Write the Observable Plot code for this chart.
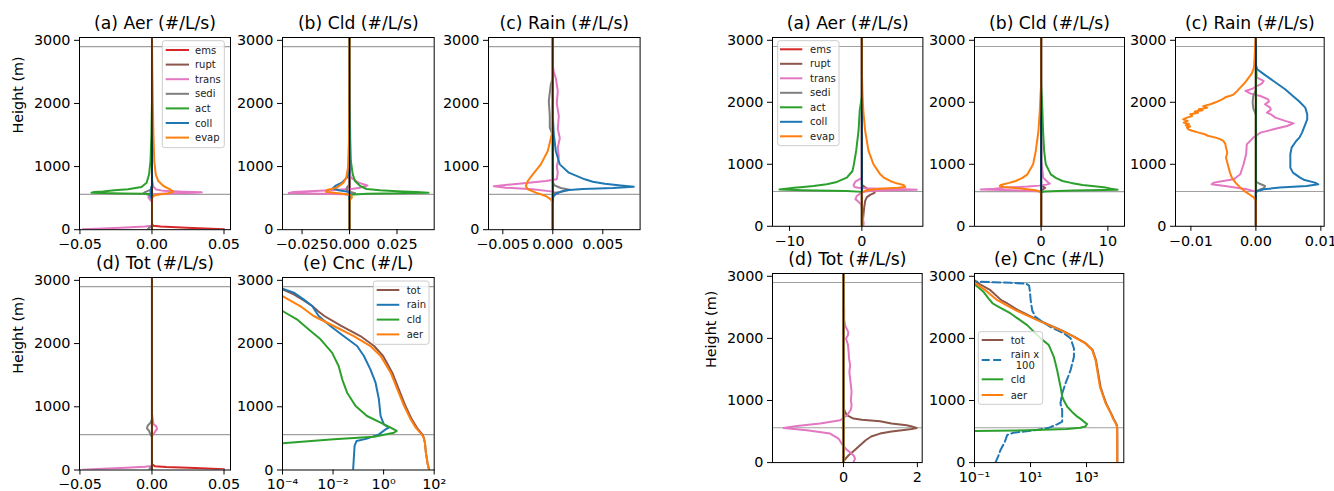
<!DOCTYPE html>
<html><head><meta charset="utf-8">
<script src="https://cdn.jsdelivr.net/npm/d3@7"></script>
<script src="https://cdn.jsdelivr.net/npm/@observablehq/plot@0.6"></script>
<style>body{margin:0;background:#fff}#chart{position:relative;width:1334px;height:491px;background:#fff;overflow:hidden}</style>
</head><body><div id="chart"></div>
<script>
// ---------- labels / colours ----------
const rateLabels = ["ems","rupt","trans","sedi","act","coll","evap"];
const rateColors = ["#d62728","#8c564b","#e377c2","#7f7f7f","#2ca02c","#1f77b4","#ff7f0e"];
const cncLabelsL = ["tot","rain","cld","aer"];
const cncLabelsR = ["tot","rain x\n 100","cld","aer"];
const cncColors = ["#8c564b","#1f77b4","#2ca02c","#ff7f0e"];
const hLines = [560, 2900];
const yTicks = [0, 1000, 2000, 3000];
const zero = [[0,0],[3040,0]];

// ---------- LEFT FIGURE : [height (m), value] ----------
const LA_ems = [[5,0.05],[30,0.024],[50,0.006],[62,0.001],[90,0],[3040,0]];
const LA_rupt = zero;
const LA_trans = [[5,-0.048],[20,-0.034],[35,-0.018],[50,-0.005],[62,0],[440,0],[480,-0.0015],[510,-0.0025],[540,-0.002],[560,0],[575,0.01],[585,0.03],[592,0.0345],[600,0.022],[615,0.008],[635,0.003],[680,0.001],[800,0],[3040,0]];
const LA_sedi = [[5,-0.003],[30,-0.002],[60,0],[520,0],[550,-0.002],[575,-0.006],[595,-0.005],[630,-0.001],[700,0],[3040,0]];
const LA_act = [[0,0],[560,0],[568,-0.004],[575,-0.02],[585,-0.042],[596,-0.040],[606,-0.034],[624,-0.026],[640,-0.0166],[677,-0.0073],[745,-0.0037],[877,-0.002],[1100,-0.001],[1500,-0.0004],[2000,0],[3040,0]];
const LA_coll = [[0,0],[480,0],[520,-0.001],[620,-0.001],[700,0],[3040,0]];
const LA_evap = [[0,0],[470,0],[510,0.0003],[540,0.0015],[560,0.006],[575,0.011],[600,0.0149],[615,0.014],[640,0.0125],[692,0.008],[771,0.0044],[877,0.0026],[1088,0.0016],[1500,0.001],[2000,0.0006],[2600,0.0002],[3040,0]];

const LB_ems = zero, LB_rupt = zero;
const LB_trans = [[0,0],[545,0],[560,-0.003],[581,-0.032],[597,-0.0295],[624,-0.0102],[650,0.002],[666,0.0056],[700,0.0095],[745,0.0047],[824,0.0008],[900,0],[3040,0]];
const LB_sedi = [[0,0],[540,0],[560,0.001],[576,0.003],[595,0.001],[613,-0.0015],[666,-0.0014],[720,0],[3040,0]];
const LB_act = [[0,0],[545,0],[556,0.002],[570,0.0093],[586,0.0416],[597,0.035],[610,0.025],[624,0.016],[645,0.009],[692,0.0056],[771,0.0029],[877,0.0017],[1088,0.0007],[1406,0.0004],[2000,0.0001],[3040,0]];
const LB_coll = [[0,0],[590,0],[603,-0.0014],[624,-0.0057],[656,-0.0088],[692,-0.0075],[745,-0.004],[824,-0.0014],[900,0],[3040,0]];
const LB_evap = [[0,0],[460,0],[490,0.0008],[515,0.0013],[540,0.0008],[560,-0.001],[578,-0.006],[600,-0.0125],[629,-0.012],[666,-0.0067],[745,-0.0032],[824,-0.0017],[982,-0.0008],[1400,-0.0003],[2000,-0.0001],[3040,0]];

const LC_ems = zero, LC_rupt = zero, LC_act = zero;
const LC_trans = [[0,0],[540,0],[571,0.0005],[603,0],[640,-0.002],[666,-0.0047],[690,-0.0059],[712,-0.0045],[729,-0.0034],[772,-0.0007],[800,0.0004],[900,0.0005],[1000,0.0004],[1150,0.0006],[1300,0.0005],[1450,0.0007],[1600,0.0005],[1800,0.0006],[2000,0.0004],[2200,0.0005],[2400,0.0003],[2500,0.0001],[2600,0],[3040,0]];
const LC_sedi = [[0,0],[560,0],[590,0.0004],[615,0.0013],[632,0.0017],[660,0.0008],[700,0.0002],[745,0],[1500,0],[1616,-0.0003],[1800,-0.0003],[2040,-0.0004],[2300,-0.0002],[2409,0],[3040,0]];
const LC_coll = [[0,0],[500,0],[534,0.0001],[570,0.0003],[600,0.0008],[624,0.0013],[645,0.003],[660,0.006],[680,0.0081],[700,0.0068],[729,0.0052],[760,0.004],[798,0.0032],[903,0.0016],[1035,0.0007],[1247,0.0003],[1511,0.0001],[1800,0],[3040,0]];
const LC_evap = [[0,0],[420,0],[481,-0.0002],[534,-0.0007],[587,-0.0017],[640,-0.0025],[692,-0.0027],[771,-0.0025],[877,-0.002],[1035,-0.0012],[1247,-0.0005],[1511,-0.0001],[1800,0],[3040,0]];

const LD_ems = [[10,0.05],[30,0.03],[48,0.01],[60,0.002],[90,0],[3040,0]];
const LD_rupt = zero, LD_act = zero, LD_coll = zero, LD_evap = zero;
const LD_trans = [[5,-0.048],[20,-0.034],[35,-0.018],[50,-0.005],[62,0],[540,0],[564,0.001],[617,0.0025],[650,0.0035],[690,0.003],[722,0.0012],[801,0.0005],[900,0],[3040,0]];
const LD_sedi = [[5,-0.002],[40,-0.001],[60,0],[520,0],[560,-0.001],[617,-0.002],[660,-0.0035],[700,-0.003],[750,-0.001],[800,0],[3040,0]];

const LE_tot = [[5,63],[100,55],[274,47],[432,43],[511,39],[564,34],[620,26],[670,20.5],[801,13],[1012,7.3],[1276,4.0],[1434,2.8],[1539,2.2],[1803,0.95],[1961,0.42],[2119,0.12],[2278,0.021],[2436,0.0045],[2515,0.0025],[2594,0.0015],[2699,0.0006],[2778,0.00028],[2857,0.0001],[2900,0.00005]];
const LE_rain = [[0,0.062],[380,0.071],[459,0.085],[496,0.22],[564,0.65],[643,1.2],[670,1.6],[722,1.02],[854,0.76],[1118,0.65],[1381,0.48],[1592,0.30],[1803,0.166],[1961,0.089],[2119,0.026],[2278,0.0078],[2436,0.0027],[2515,0.002],[2594,0.0015],[2699,0.00068],[2805,0.00028],[2868,0.0001],[2900,0.00005]];
const LE_cld = [[380,0.00005],[422,0.0001],[485,0.0107],[527,0.42],[590,2.57],[617,3.3],[670,1.9],[749,0.76],[854,0.22],[1012,0.078],[1223,0.036],[1434,0.023],[1645,0.0166],[1856,0.0091],[2067,0.0032],[2225,0.00107],[2383,0.00037],[2515,0.0001],[2550,0.00005]];
const LE_aer = [[5,63],[100,55],[274,47],[432,43],[511,38],[564,32],[620,24],[670,18.6],[801,11.7],[1012,6.5],[1276,3.5],[1539,1.9],[1803,0.76],[1961,0.30],[2119,0.066],[2278,0.0107],[2436,0.0017],[2594,0.0005],[2752,0.0001],[2800,0.00005]];

// ---------- RIGHT FIGURE ----------
const RA_ems = zero, RA_sedi = zero, RA_coll = zero;
const RA_rupt = [[0,0.1],[86,0.14],[194,0.23],[301,0.32],[409,0.46],[470,0.7],[510,1.2],[540,1.75],[560,1.8],[580,1.2],[600,0.8],[634,0.4],[670,0],[3040,0]];
const RA_trans = [[0,0.2],[50,0.25],[86,0.2],[200,0.05],[301,0],[355,-0.1],[409,-0.6],[435,-0.9],[489,-0.7],[530,-0.2],[554,0],[570,1.15],[581,4],[588,7.6],[597,6],[607,2.5],[613,0.5],[623,-0.5],[634,-1.0],[666,-1.15],[700,-1.0],[720,-0.9],[760,-0.3],[785,0],[3040,0]];
const RA_act = [[0,0],[555,0],[570,-2.1],[581,-8.1],[592,-11.4],[605,-10.5],[620,-9.4],[634,-8.1],[650,-6.7],[677,-4.85],[715,-3.46],[785,-2.08],[892,-1.3],[1000,-1.1],[1215,-0.79],[1537,-0.46],[1860,-0.3],[2100,0],[3040,0]];
const RA_evap = [[0,0],[540,0],[554,0.14],[581,0.7],[607,2.5],[622,5.0],[634,6.0],[650,5.9],[666,5.76],[700,4.6],[731,3.92],[780,3.1],[838,2.54],[1000,1.61],[1215,0.92],[1537,0.46],[1860,0.2],[2100,0.1],[2500,0],[3040,0]];

const RB_ems = zero, RB_sedi = zero, RB_coll = zero;
const RB_rupt = [[0,0],[560,0],[600,0.3],[620,0.6],[640,0.3],[660,0],[3040,0]];
const RB_trans = [[0,0],[540,0],[565,-0.3],[581,-4.3],[594,-9.05],[605,-7],[624,-5.3],[640,-2],[656,-0.3],[672,0.8],[688,1.3],[720,0.95],[785,0.3],[1054,0.05],[1500,0.05],[2000,0.1],[2200,0],[3040,0]];
const RB_act = [[0,0],[545,0],[560,0.45],[576,4.7],[591,11.45],[607,10.5],[624,9.7],[645,8],[666,6.2],[700,4.5],[731,3.2],[780,2.2],[838,1.45],[1000,0.7],[1215,0.45],[1537,0.29],[1860,0.195],[2100,0.1],[2300,0],[3040,0]];
const RB_evap = [[0,0],[500,0],[554,-0.05],[581,-0.8],[607,-2.8],[634,-5.55],[650,-6.2],[666,-6.05],[700,-4.8],[731,-3.8],[780,-2.8],[838,-2.05],[1000,-1.2],[1215,-0.8],[1537,-0.4],[1860,-0.2],[2100,-0.1],[2300,0],[3040,0]];

const RC_ems = zero, RC_rupt = zero, RC_act = zero;
const RC_trans = [[0,0],[540,0],[559,0],[597,-0.0014],[645,-0.0045],[677,-0.0068],[704,-0.0065],[730,-0.005],[758,-0.0034],[839,-0.0024],[1000,-0.0019],[1161,-0.0015],[1322,-0.0014],[1430,-0.0004],[1511,0.0007],[1564,0.0027],[1618,0.0048],[1660,0.0058],[1700,0.0045],[1753,0.003],[1800,0.0024],[1833,0.0017],[1880,0.0023],[1914,0.0022],[1968,0.0014],[2010,0.002],[2048,0.0019],[2102,0.0007],[2140,-0.0008],[2183,-0.0016],[2220,-0.0005],[2263,0.0002],[2300,0.0009],[2344,0.0012],[2398,0.00015],[2500,0.0001],[2700,-0.0001],[2900,0],[3040,0]];
const RC_sedi = [[0,0],[540,0],[580,0.0003],[620,0.0013],[650,0.0014],[690,0.0005],[720,0],[1800,0],[1900,-0.0004],[2000,-0.0005],[2100,-0.0004],[2200,0],[3040,0]];
const RC_coll = [[0,0],[520,0],[559,0],[597,0.0012],[624,0.0037],[650,0.0078],[677,0.0096],[704,0.0091],[745,0.0075],[785,0.0068],[866,0.0057],[946,0.0053],[1054,0.0053],[1161,0.0053],[1269,0.0055],[1376,0.0062],[1430,0.0067],[1511,0.0071],[1645,0.0076],[1726,0.0079],[1806,0.0079],[1914,0.0076],[2021,0.0066],[2110,0.0056],[2210,0.0045],[2344,0.0027],[2478,0.0009],[2532,0.0002],[2600,0],[3040,0]];
const RC_evap = [[0,0],[409,0],[462,-0.0003],[500,-0.0008],[543,-0.0014],[580,-0.0019],[624,-0.0024],[700,-0.0031],[785,-0.0037],[870,-0.004],[946,-0.0042],[1030,-0.0044],[1107,-0.0046],[1190,-0.0044],[1269,-0.0046],[1330,-0.0047],[1376,-0.005],[1410,-0.0056],[1430,-0.0062],[1460,-0.0074],[1490,-0.008],[1511,-0.0088],[1540,-0.0098],[1565,-0.0104],[1591,-0.0106],[1610,-0.0101],[1630,-0.0108],[1650,-0.0103],[1672,-0.0111],[1700,-0.0105],[1725,-0.0112],[1753,-0.0106],[1780,-0.0098],[1806,-0.0101],[1830,-0.0089],[1850,-0.0094],[1870,-0.0082],[1887,-0.0088],[1910,-0.0075],[1935,-0.0081],[1968,-0.007],[2000,-0.0062],[2048,-0.0052],[2080,-0.0047],[2110,-0.0038],[2129,-0.0034],[2180,-0.0029],[2236,-0.0024],[2290,-0.0019],[2340,-0.0015],[2398,-0.0011],[2470,-0.0006],[2559,-0.0003],[2700,-0.0002],[2935,-0.0001],[3040,0]];

const RD_ems = zero, RD_act = zero, RD_coll = zero, RD_evap = zero;
const RD_rupt = [[0,0],[38,0.02],[118,0.14],[199,0.3],[279,0.45],[360,0.6],[420,0.75],[467,0.99],[500,1.3],[516,1.53],[540,1.85],[558,1.98],[580,1.85],[601,1.71],[630,1.3],[666,0.99],[690,0.5],[709,0.27],[760,0.1],[816,0.04],[900,0],[3040,0]];
const RD_trans = [[8,0.27],[64,0.315],[110,0.28],[145,0.22],[200,0.1],[279,-0.02],[387,-0.135],[467,-0.36],[521,-0.99],[558,-1.62],[591,-1.26],[628,-0.63],[682,-0.09],[763,0.1],[850,0.2],[924,0.22],[1000,0.2],[1138,0.22],[1250,0.2],[1353,0.18],[1460,0.16],[1568,0.18],[1680,0.15],[1783,0.14],[1900,0.12],[1998,0.07],[2050,0.12],[2105,0.13],[2200,0.05],[2300,0.02],[2481,0.02],[2600,0],[3040,0]];
const RD_sedi = [[0,0],[540,0],[560,-0.03],[580,0],[3040,0]];

const RE_tot = [[5,12600],[300,12600],[560,12500],[600,12100],[633,11300],[700,9400],[800,7400],[954,5000],[1100,3850],[1222,3150],[1490,2500],[1651,2170],[1812,1650],[1919,950],[2026,370],[2133,125],[2294,19],[2455,3.6],[2562,1.5],[2616,0.9],[2777,0.37],[2884,0.14],[2937,0.1],[2950,0.09]];
const RE_rain = [[0,0.56],[100,0.7],[204,0.85],[330,1.2],[445,1.48],[482,2.5],[500,6],[525,17],[560,45],[616,89],[660,135],[760,135],[847,135],[954,117],[1115,135],[1276,178],[1490,270],[1704,355],[1838,355],[2000,270],[2080,155],[2187,51],[2270,26],[2347,15],[2450,11.5],[2562,10.5],[2642,10],[2760,9.5],[2850,8.9],[2880,7],[2895,2],[2905,0.5],[2915,0.1],[2920,0.09]];
const RE_cld = [[480,0.05],[509,0.1],[520,8],[540,200],[560,600],[580,900],[622,1050],[660,800],[700,630],[740,470],[820,300],[900,205],[1000,155],[1061,135],[1222,118],[1490,89],[1704,68],[1892,45],[2000,23],[2214,7.6],[2401,1.95],[2519,0.65],[2562,0.45],[2642,0.32],[2760,0.2],[2857,0.11],[2880,0.1],[2890,0.09]];
const RE_aer = [[5,12400],[300,12400],[560,12300],[600,11800],[633,10900],[700,9000],[800,7200],[954,4800],[1100,3700],[1222,3000],[1490,2400],[1651,2100],[1812,1600],[1919,910],[2026,355],[2133,118],[2294,17.4],[2455,2.9],[2616,0.65],[2777,0.245],[2884,0.11],[2900,0.09]];

// ---------- helpers ----------
const MINUS = "\u2212";
const fixed = n => d => (d < 0 ? MINUS : "") + Math.abs(d).toFixed(n);
const SUP = {"-":"\u207b","0":"\u2070","1":"\u00b9","2":"\u00b2","3":"\u00b3","4":"\u2074","5":"\u2075","6":"\u2076","7":"\u2077","8":"\u2078","9":"\u2079"};
const logFmt = d => "10" + String(Math.round(Math.log10(d))).split("").map(c => SUP[c]).join("");
const FONT = "DejaVu Sans";
const chart = document.getElementById("chart");

function rateSeries(arrs) { return arrs.map((a, i) => ({data: a, color: rateColors[i]})); }

function panel(p) {
  const ML = 72, MR = 14, MT = 34, MB = 28;
  const w = p.fx[1] - p.fx[0], h = p.fy[1] - p.fy[0];
  const marks = [
    Plot.ruleY(hLines, {stroke: "#a0a0a0", strokeWidth: 1.1}),
    ...p.series.map(s => Plot.line(s.data, {x: d => d[1], y: d => d[0], stroke: s.color, strokeWidth: 2, strokeDasharray: s.dash, strokeLinejoin: "round", clip: true})),
    p.zero ? Plot.ruleX([0], {stroke: "black", strokeWidth: 1.2}) : null,
    Plot.frame({stroke: "black", strokeWidth: 1}),
    Plot.axisX({ticks: p.xt, tickFormat: p.fmt, tickSize: 5, tickPadding: 4, fontSize: 14.4, label: null}),
    Plot.axisY({ticks: yTicks, tickFormat: d3.format("d"), tickSize: 5, tickPadding: 4, fontSize: 14.4, label: null}),
    Plot.text([p.title], {text: d => d, frameAnchor: "top", dy: -8.5, lineAnchor: "bottom", fontSize: 17.2}),
    p.ylabel ? Plot.text(["Height (m)"], {text: d => d, frameAnchor: "left", dx: -61, rotate: -90, fontSize: 14.4}) : null
  ];
  const svg = Plot.plot({
    width: w + ML + MR, height: h + MT + MB,
    marginLeft: ML, marginRight: MR, marginTop: MT, marginBottom: MB,
    x: {type: p.log ? "log" : "linear", domain: p.xd},
    y: {domain: [0, 3045]},
    style: {fontFamily: FONT, fontSize: "14.4px", background: "transparent", overflow: "visible", color: "black"},
    marks
  });
  svg.style.position = "absolute";
  svg.style.left = (p.fx[0] - ML) + "px";
  svg.style.top = (p.fy[0] - MT) + "px";
  svg.style.maxWidth = "none";
  chart.appendChild(svg);
}

const rowL1 = [36.5, 228.7], rowL2 = [276.5, 469], rowR1 = [36.5, 225.3], rowR2 = [273.2, 462.3];

panel({fx: [79, 230], fy: rowL1, xd: [-0.0503, 0.0545], xt: [-0.05, 0, 0.05], fmt: fixed(2), title: "(a) Aer (#/L/s)", ylabel: true, zero: true,
  series: rateSeries([LA_ems, LA_rupt, LA_trans, LA_sedi, LA_act, LA_coll, LA_evap])});
panel({fx: [282.3, 434], fy: rowL1, xd: [-0.0353, 0.0446], xt: [-0.025, 0, 0.025], fmt: fixed(3), title: "(b) Cld (#/L/s)", zero: true,
  series: rateSeries([LB_ems, LB_rupt, LB_trans, LB_sedi, LB_act, LB_coll, LB_evap])});
panel({fx: [487.7, 639.3], fy: rowL1, xd: [-0.00643, 0.00873], xt: [-0.005, 0, 0.005], fmt: fixed(3), title: "(c) Rain (#/L/s)", zero: true,
  series: rateSeries([LC_ems, LC_rupt, LC_trans, LC_sedi, LC_act, LC_coll, LC_evap])});
panel({fx: [79, 230], fy: rowL2, xd: [-0.0503, 0.0545], xt: [-0.05, 0, 0.05], fmt: fixed(2), title: "(d) Tot (#/L/s)", ylabel: true, zero: true,
  series: rateSeries([LD_ems, LD_rupt, LD_trans, LD_sedi, LD_act, LD_coll, LD_evap])});
panel({fx: [282.3, 434], fy: rowL2, log: true, xd: [1e-4, 100], xt: [1e-4, 1e-2, 1, 100], fmt: logFmt, title: "(e) Cnc (#/L)",
  series: [LE_tot, LE_rain, LE_cld, LE_aer].map((a, i) => ({data: a, color: cncColors[i]}))});

panel({fx: [772.3, 922.7], fy: rowR1, xd: [-12.36, 8.44], xt: [-10, 0], fmt: d => (d < 0 ? MINUS : "") + Math.abs(d), title: "(a) Aer (#/L/s)", zero: true,
  series: rateSeries([RA_ems, RA_rupt, RA_trans, RA_sedi, RA_act, RA_coll, RA_evap])});
panel({fx: [974, 1124], fy: rowR1, xd: [-9.98, 12.49], xt: [0, 10], fmt: d => String(d), title: "(b) Cld (#/L/s)", zero: true,
  series: rateSeries([RB_ems, RB_rupt, RB_trans, RB_sedi, RB_act, RB_coll, RB_evap])});
panel({fx: [1175.3, 1324], fy: rowR1, xd: [-0.01237, 0.01051], xt: [-0.01, 0, 0.01], fmt: fixed(2), title: "(c) Rain (#/L/s)", zero: true,
  series: rateSeries([RC_ems, RC_rupt, RC_trans, RC_sedi, RC_act, RC_coll, RC_evap])});
panel({fx: [772.3, 922], fy: rowR2, xd: [-1.92, 2.13], xt: [0, 2], fmt: d => String(d), title: "(d) Tot (#/L/s)", ylabel: true, zero: true,
  series: rateSeries([RD_ems, RD_rupt, RD_trans, RD_sedi, RD_act, RD_coll, RD_evap])});
panel({fx: [974, 1123.3], fy: rowR2, log: true, xd: [0.1, 21380], xt: [0.1, 10, 1000], fmt: logFmt, title: "(e) Cnc (#/L)",
  series: [RE_tot, RE_rain, RE_cld, RE_aer].map((a, i) => ({data: a, color: cncColors[i], dash: i === 1 ? "8,3.5" : null}))});

// ---------- legends ----------
const ov = d3.create("svg").attr("width", 1334).attr("height", 491)
  .style("position", "absolute").style("left", "0px").style("top", "0px")
  .style("font-family", FONT).style("pointer-events", "none");
function legend(box, lx, tx, rows) {
  ov.append("rect").attr("x", box[0]).attr("y", box[1]).attr("width", box[2] - box[0]).attr("height", box[3] - box[1])
    .attr("rx", 2.5).attr("fill", "white").attr("fill-opacity", 0.8).attr("stroke", "#cccccc").attr("stroke-width", 1);
  rows.forEach(r => {
    ov.append("line").attr("x1", lx[0]).attr("x2", lx[1]).attr("y1", r.y).attr("y2", r.y)
      .attr("stroke", r.color).attr("stroke-width", 2).attr("stroke-dasharray", r.dash || null);
    const lines = r.label.split("\n");
    const y0 = r.y - (lines.length - 1) * 5.7;
    lines.forEach((t, k) => ov.append("text").attr("x", tx + (k > 0 ? 5 : 0)).attr("y", y0 + k * 11.4).attr("dy", "0.35em")
      .attr("font-size", 10).attr("fill", "#222").text(t.trim()));
  });
}
legend([162.3, 40.7, 224.3, 147.7], [165.7, 189], 195, rateLabels.map((l, i) => ({label: l, color: rateColors[i], y: 50 + i * 14.6})));
legend([777.7, 40.7, 839, 145.7], [780, 802.3], 810, rateLabels.map((l, i) => ({label: l, color: rateColors[i], y: 49.3 + i * 14.5})));
legend([373.3, 281, 429, 344.3], [376.7, 399.3], 406.7, cncLabelsL.map((l, i) => ({label: l, color: cncColors[i], y: 290 + i * 14.8})));
legend([978.3, 331.7, 1042.7, 404.3], [981.7, 1003.3], 1010.7, cncLabelsR.map((l, i) => ({label: l, color: cncColors[i], y: [340, 360, 379.3, 395][i], dash: i === 1 ? "8,3.5" : null})));
chart.appendChild(ov.node());
</script></body></html>
